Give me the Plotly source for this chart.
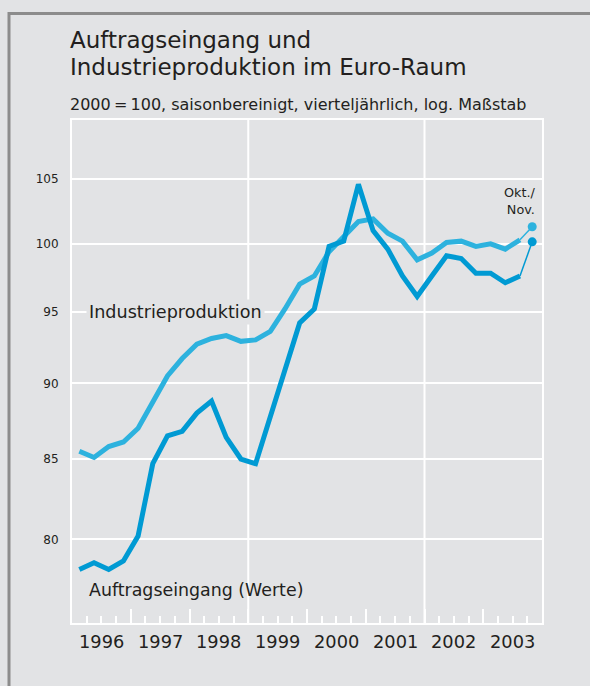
import math
import plotly.graph_objects as go

# ---------------- data ----------------
quarters = [f"{y}Q{q}" for y in range(1996, 2004) for q in range(1, 5)][:31]

auftrag = [78.2, 78.6, 78.2, 78.7,
           80.2, 84.7, 86.5, 86.8,
           88.0, 88.8, 86.4, 85.0,
           84.7, 87.8, 91.0, 94.2,
           95.2, 99.8, 100.2, 104.6,
           101.0, 99.6, 97.6, 96.1,
           97.6, 99.1, 98.9, 97.8,
           97.8, 97.1, 97.6]

industrie = [85.5, 85.1, 85.8, 86.1,
             87.0, 88.8, 90.5, 91.7,
             92.7, 93.1, 93.3, 92.9,
             93.0, 93.6, 95.2, 97.0,
             97.6, 99.4, 100.6, 101.7,
             101.9, 100.8, 100.2, 98.8,
             99.3, 100.1, 100.2, 99.8,
             100.0, 99.6, 100.3]

okt_nov_label = "Okt./<br>Nov."
okt_nov_pos = 2003 + 10 / 12
auftrag_okt_nov = 100.15
industrie_okt_nov = 101.3

years = list(range(1996, 2004))
grid_years = [1999, 2002]
y_ticks = [80, 85, 90, 95, 100, 105]

# ---------------- styling ----------------
BG = "#e2e3e5"
C_IND = "#2db2de"
C_AUF = "#009ad3"
TXT = "#231f20"
FONT = "DejaVu Sans"

W, H = 590, 686
L, R, T, B = 72, 48, 120, 63
PW, PH = W - L - R, H - T - B


def px_x(px):
    return (px - L) / PW


def px_y(py):
    return (H - B - py) / PH


def qpos(q):
    y, n = q.split("Q")
    return int(y) + (int(n) - 0.5) / 4


xq = [qpos(q) for q in quarters]

fig = go.Figure()

fig.add_trace(go.Scatter(x=xq, y=industrie, mode="lines",
                         line=dict(color=C_IND, width=5), hoverinfo="skip"))
fig.add_trace(go.Scatter(x=[xq[-1], okt_nov_pos], y=[industrie[-1], industrie_okt_nov],
                         mode="lines", line=dict(color=C_IND, width=1.5), hoverinfo="skip"))
fig.add_trace(go.Scatter(x=[okt_nov_pos], y=[industrie_okt_nov], mode="markers",
                         marker=dict(color=C_IND, size=9), hoverinfo="skip"))

fig.add_trace(go.Scatter(x=xq, y=auftrag, mode="lines",
                         line=dict(color=C_AUF, width=5), hoverinfo="skip"))
fig.add_trace(go.Scatter(x=[xq[-1], okt_nov_pos], y=[auftrag[-1], auftrag_okt_nov],
                         mode="lines", line=dict(color=C_AUF, width=1.5), hoverinfo="skip"))
fig.add_trace(go.Scatter(x=[okt_nov_pos], y=[auftrag_okt_nov], mode="markers",
                         marker=dict(color=C_AUF, size=9), hoverinfo="skip"))

shapes = []
for gy in grid_years:
    shapes.append(dict(type="line", xref="x", yref="paper", x0=gy, x1=gy, y0=0, y1=1,
                       line=dict(color="white", width=2), layer="below"))
# outer frame (top and left)
shapes.append(dict(type="line", xref="paper", yref="paper",
                   x0=px_x(9), x1=px_x(W + 10), y0=px_y(13.5), y1=px_y(13.5),
                   line=dict(color="#8c8c8c", width=3)))
shapes.append(dict(type="line", xref="paper", yref="paper",
                   x0=px_x(9), x1=px_x(9), y0=px_y(12), y1=px_y(H + 10),
                   line=dict(color="#8c8c8c", width=3)))

annotations = [
    dict(text="Auftragseingang und", xref="paper", yref="paper", x=px_x(68), y=px_y(40),
         xanchor="left", yanchor="middle", showarrow=False,
         font=dict(size=23, color=TXT, family=FONT)),
    dict(text="Industrieproduktion im Euro-Raum", xref="paper", yref="paper", x=px_x(68), y=px_y(67),
         xanchor="left", yanchor="middle", showarrow=False,
         font=dict(size=23, color=TXT, family=FONT)),
    dict(text="2000\u2009=\u2009100, saisonbereinigt, vierteljährlich, log. Maßstab", xref="paper", yref="paper",
         x=px_x(68), y=px_y(104), xanchor="left", yanchor="middle", showarrow=False,
         font=dict(size=16, color=TXT, family=FONT)),
    dict(text="Industrieproduktion", xref="paper", yref="y", x=px_x(86), y=math.log10(95),
         xanchor="left", yanchor="middle", showarrow=False, bgcolor=BG, borderpad=2,
         font=dict(size=17.6, color=TXT, family=FONT)),
    dict(text="Auftragseingang (Werte)", xref="paper", yref="paper", x=px_x(87), y=px_y(590),
         xanchor="left", yanchor="middle", showarrow=False,
         font=dict(size=17.4, color=TXT, family=FONT)),
    dict(text=okt_nov_label, xref="paper", yref="paper", x=px_x(538), y=px_y(201),
         xanchor="right", yanchor="middle", align="right", showarrow=False,
         font=dict(size=12.8, color=TXT, family=FONT)),
]
for yr in years:
    annotations.append(dict(text=str(yr), xref="x", yref="paper", x=yr + 0.5, y=px_y(641),
                            xanchor="center", yanchor="middle", showarrow=False,
                            font=dict(size=17.8, color=TXT, family=FONT)))

fig.update_layout(
    width=W, height=H,
    margin=dict(l=L, r=R, t=T, b=B, pad=0),
    paper_bgcolor=BG, plot_bgcolor=BG,
    showlegend=False,
    font=dict(family=FONT, color=TXT),
    shapes=shapes,
    annotations=annotations,
    xaxis=dict(range=[1996, 2004], tickvals=years[1:], ticks="inside", ticklen=14,
               tickwidth=2, tickcolor="white", showticklabels=False, showgrid=False,
               zeroline=False, showline=True, linecolor="white", linewidth=2, mirror=True,
               minor=dict(ticks="inside", ticklen=7, tickwidth=2, tickcolor="white",
                          tick0=1996, dtick=0.25, showgrid=False)),
    yaxis=dict(type="log", range=[math.log10(75.1), math.log10(109.8)],
               tickvals=y_ticks, ticktext=[str(v) for v in y_ticks], ticks="",
               showgrid=True, gridcolor="white", gridwidth=2, zeroline=False,
               showline=True, linecolor="white", linewidth=2, mirror=True,
               tickfont=dict(size=12, color=TXT, family=FONT), ticklabelstandoff=9),
)

fig.write_html(
    "out.html",
    config={"displayModeBar": False},
    post_script="document.body.style.margin='0';document.body.style.overflow='hidden';"
                "document.body.style.background='" + BG + "';",
)
